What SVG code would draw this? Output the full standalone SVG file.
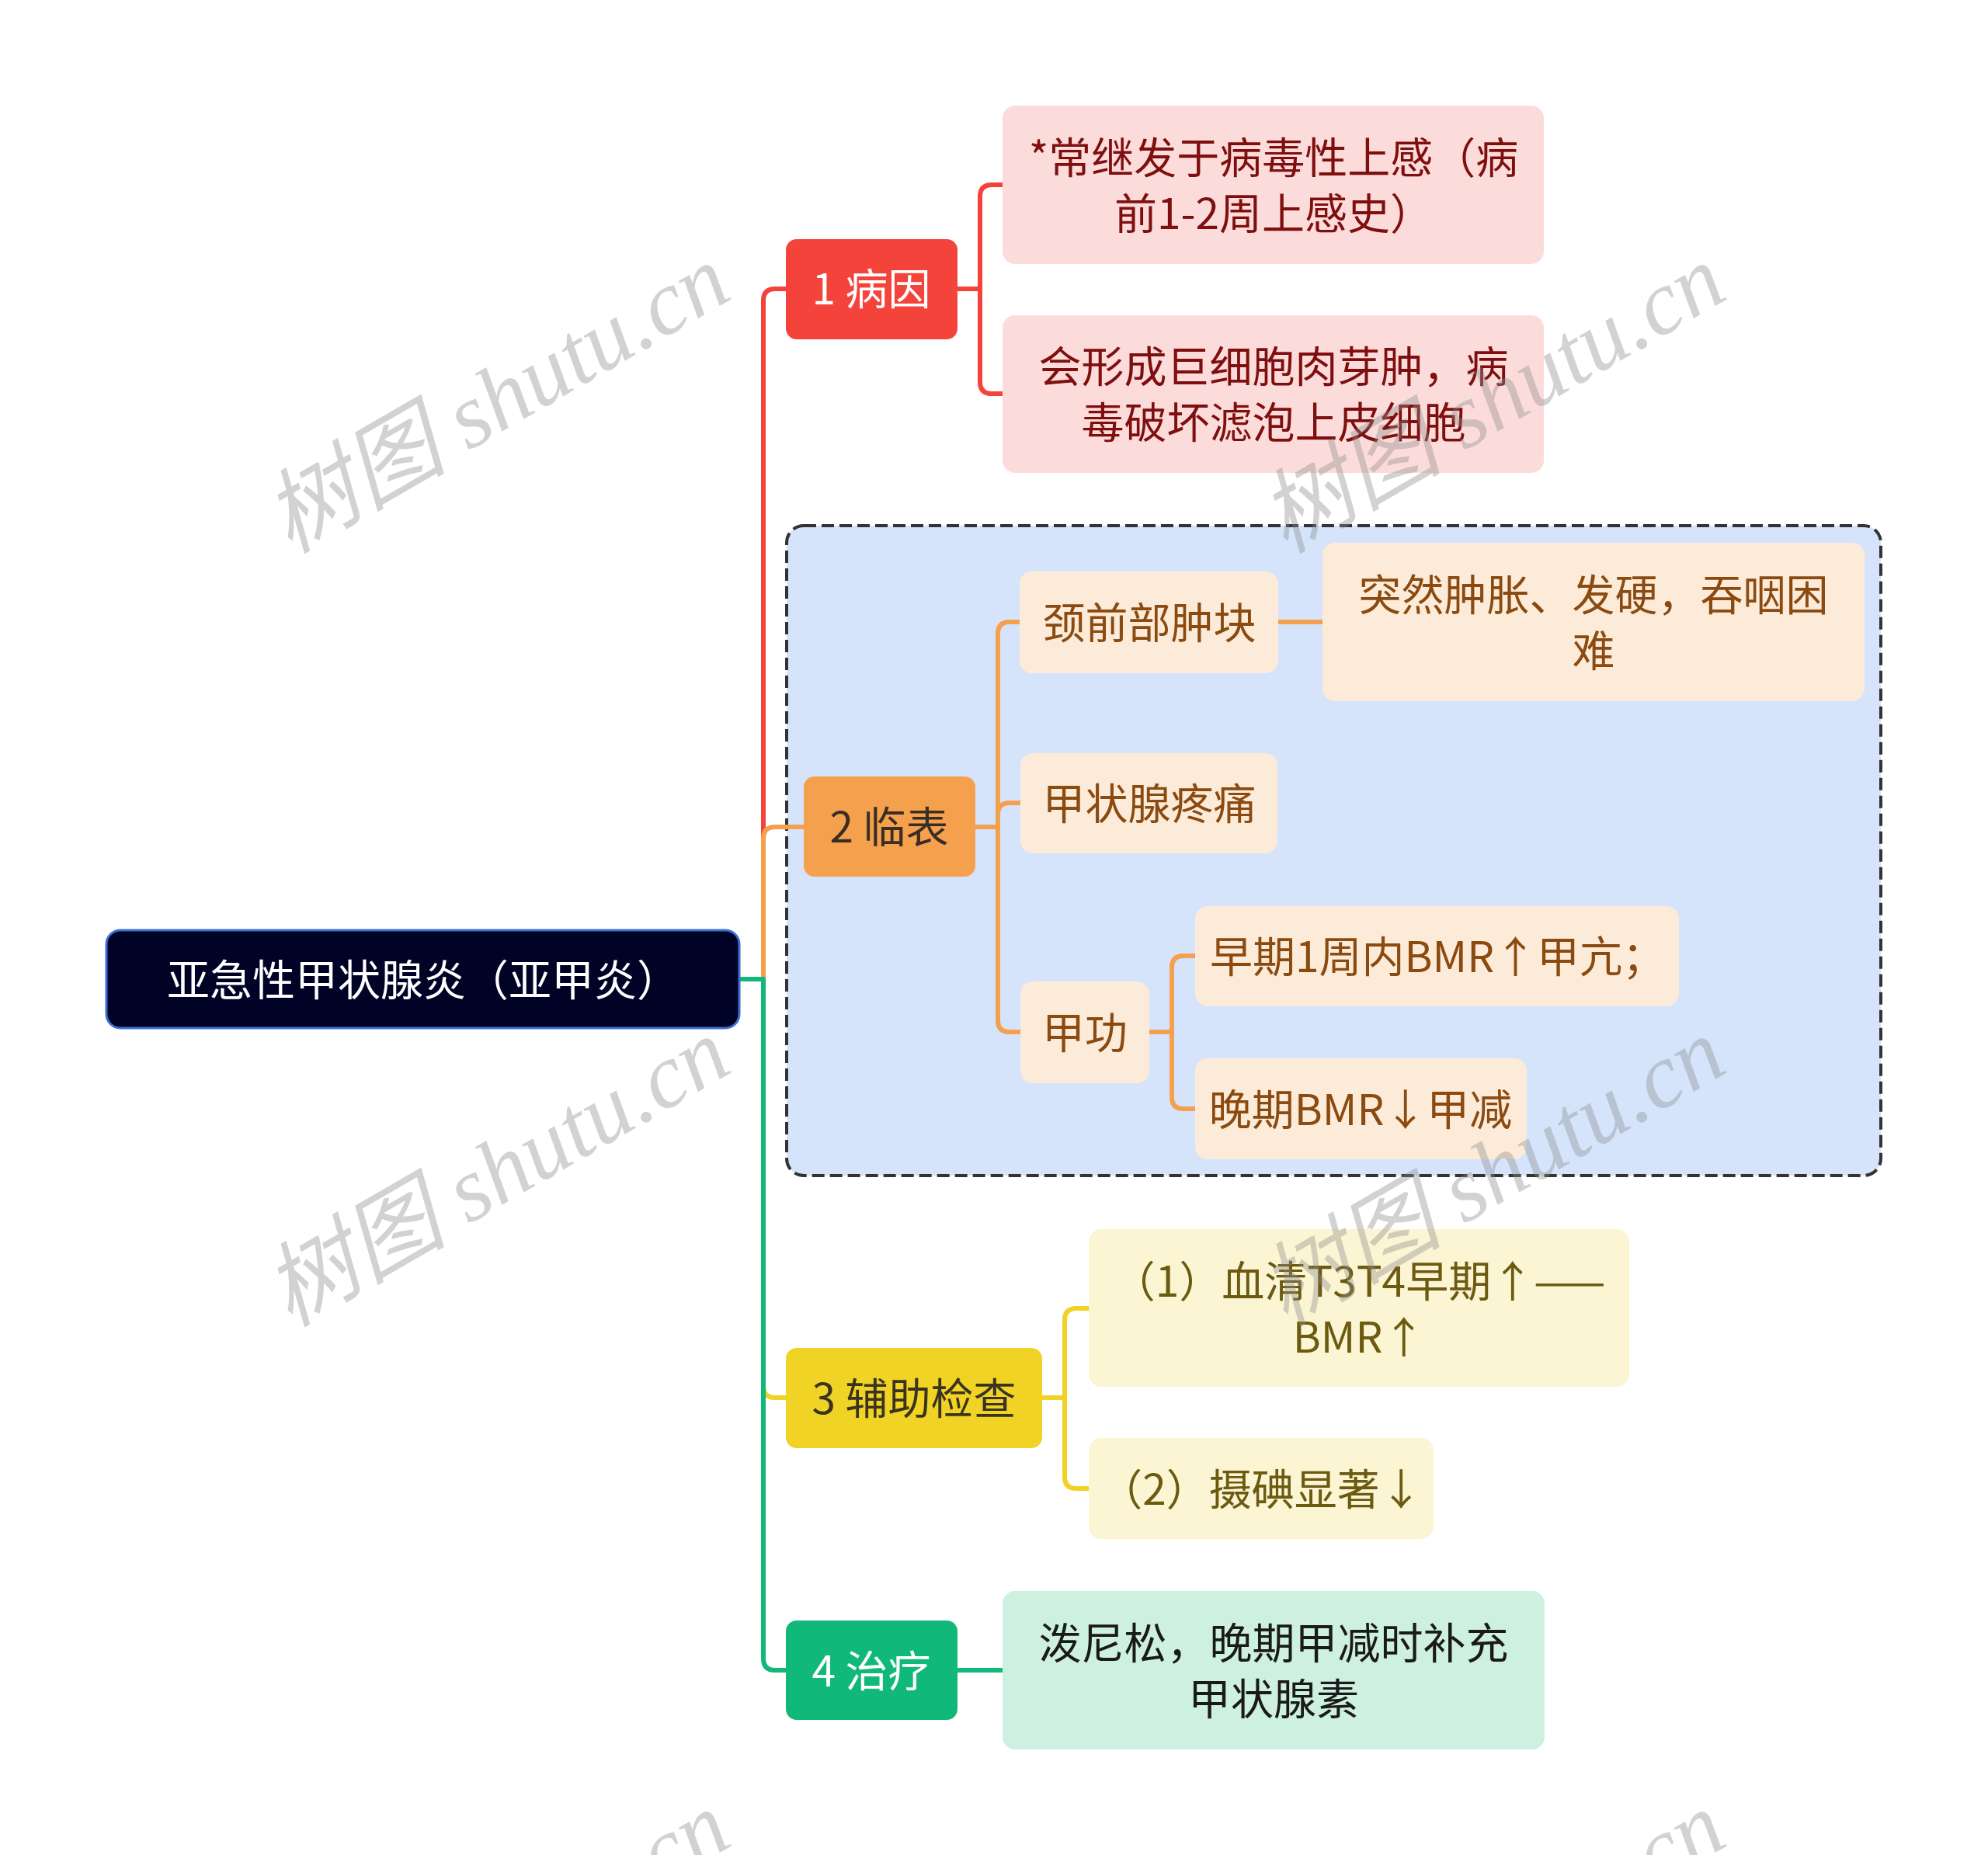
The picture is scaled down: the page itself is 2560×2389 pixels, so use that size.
<svg xmlns="http://www.w3.org/2000/svg" width="2560" height="2389" viewBox="0 0 2560 2389">
<style>
text{font-family:"Noto Sans CJK SC","Noto Sans",sans-serif;font-size:55px;text-anchor:middle;dominant-baseline:central}
.c{fill:none;stroke-width:6;stroke-linejoin:round}
.red{stroke:#f4433a}.org{stroke:#f4a04c}.yel{stroke:#f0d325}.grn{stroke:#10b97a}
.wm{font-family:"Liberation Serif","Noto Sans CJK SC",serif;font-style:italic;font-size:118px;fill:#8c8c8c;opacity:0.38}
</style>
<rect width="2560" height="2389" fill="#ffffff"/>
<g id="frame-clinical">
<rect x="1013" y="677" width="1409" height="837" rx="22" fill="#d5e4fb" stroke="#333333" stroke-width="4" stroke-dasharray="16 7"/>
</g>
<g id="connectors">
<path class="c red" d="M983 1261 V387 Q983 372 998 372 H1012"/>
<path class="c org" d="M983 1261 V1080 Q983 1065 998 1065 H1035"/>
<path class="c yel" d="M983 1261 V1785 Q983 1800 998 1800 H1012"/>
<path class="c grn" d="M952 1261 H983 V2136 Q983 2151 998 2151 H1012"/>
<path class="c red" d="M1233 372 H1262 M1262 372 V253 Q1262 238 1277 238 H1291 M1262 372 V492 Q1262 507 1277 507 H1291"/>
<path class="c org" d="M1256 1065 H1285 M1285 1065 V816 Q1285 801 1300 801 H1313 M1285 1065 V1049 Q1285 1034 1300 1034 H1314 M1285 1065 V1314 Q1285 1329 1300 1329 H1314"/>
<path class="c org" d="M1646 801 H1703"/>
<path class="c org" d="M1480 1329 H1509 M1509 1329 V1246 Q1509 1231 1524 1231 H1539 M1509 1329 V1413 Q1509 1428 1524 1428 H1539"/>
<path class="c yel" d="M1342 1800 H1371 M1371 1800 V1700 Q1371 1685 1386 1685 H1402 M1371 1800 V1902 Q1371 1917 1386 1917 H1402"/>
<path class="c grn" d="M1233 2151 H1291"/>
</g>
<g id="root">
<rect x="137" y="1198" width="815" height="126" rx="18" fill="#000326" stroke="#3b6fd4" stroke-width="3"/>
<text x="545" y="1258" fill="#ffffff">亚急性甲状腺炎（亚甲炎）</text>
</g>
<g id="n1">
<rect x="1012" y="308" width="221" height="129" rx="14" fill="#f4433a"/>
<text x="1122" y="368" fill="#ffffff">1 病因</text>
</g>
<g id="n1a">
<rect x="1291" y="136" width="697" height="204" rx="16" fill="#fcdcdb"/>
<text x="1640" y="199" fill="#7f0f0f">*常继发于病毒性上感（病</text>
<text x="1640" y="271" fill="#7f0f0f">前1-2周上感史）</text>
</g>
<g id="n1b">
<rect x="1291" y="406" width="697" height="203" rx="16" fill="#fcdcdb"/>
<text x="1640" y="468" fill="#7f0f0f">会形成巨细胞肉芽肿，病</text>
<text x="1640" y="540" fill="#7f0f0f">毒破坏滤泡上皮细胞</text>
</g>
<g id="n2">
<rect x="1035" y="1000" width="221" height="129" rx="14" fill="#f4a04c"/>
<text x="1145" y="1061" fill="#3a2e24">2 临表</text>
</g>
<g id="n2a">
<rect x="1313" y="736" width="333" height="131" rx="16" fill="#fdebd9"/>
<text x="1480" y="798" fill="#8a4a10">颈前部肿块</text>
</g>
<g id="n2a1">
<rect x="1703" y="699" width="698" height="204" rx="16" fill="#fdebd9"/>
<text x="2052" y="762" fill="#8a4a10">突然肿胀、发硬，吞咽困</text>
<text x="2052" y="834" fill="#8a4a10">难</text>
</g>
<g id="n2b">
<rect x="1314" y="970" width="331" height="129" rx="16" fill="#fdebd9"/>
<text x="1480" y="1031" fill="#8a4a10">甲状腺疼痛</text>
</g>
<g id="n2c">
<rect x="1314" y="1264" width="166" height="131" rx="16" fill="#fdebd9"/>
<text x="1397" y="1326" fill="#8a4a10">甲功</text>
</g>
<g id="n2c1">
<rect x="1539" y="1167" width="623" height="129" rx="16" fill="#fdebd9"/>
<text x="1851" y="1228" fill="#8a4a10">早期1周内BMR↑甲亢；</text>
</g>
<g id="n2c2">
<rect x="1539" y="1363" width="427" height="130" rx="16" fill="#fdebd9"/>
<text x="1752" y="1425" fill="#8a4a10">晚期BMR↓甲减</text>
</g>
<g id="n3">
<rect x="1012" y="1736" width="330" height="129" rx="14" fill="#f0d325"/>
<text x="1177" y="1797" fill="#3a3320">3 辅助检查</text>
</g>
<g id="n3a">
<rect x="1402" y="1583" width="696" height="203" rx="16" fill="#fbf5d3"/>
<text x="1750" y="1646" fill="#6b5a10">（1）血清T3T4早期↑——</text>
<text x="1750" y="1718" fill="#6b5a10">BMR↑</text>
</g>
<g id="n3b">
<rect x="1402" y="1852" width="444" height="130" rx="16" fill="#fbf5d3"/>
<text x="1624" y="1914" fill="#6b5a10">（2）摄碘显著↓</text>
</g>
<g id="n4">
<rect x="1012" y="2087" width="221" height="128" rx="14" fill="#10b97a"/>
<text x="1122" y="2148" fill="#ffffff">4 治疗</text>
</g>
<g id="n4a">
<rect x="1291" y="2049" width="698" height="204" rx="16" fill="#cdf0e0"/>
<text x="1640" y="2112" fill="#1a1a1a">泼尼松，晚期甲减时补充</text>
<text x="1640" y="2184" fill="#1a1a1a">甲状腺素</text>
</g>
<g id="watermarks">
<text class="wm" transform="translate(640 514) rotate(-30)">树图 shutu.cn</text>
<text class="wm" transform="translate(1922 514) rotate(-30)">树图 shutu.cn</text>
<text class="wm" transform="translate(640 1510) rotate(-30)">树图 shutu.cn</text>
<text class="wm" transform="translate(1922 1510) rotate(-30)">树图 shutu.cn</text>
<text class="wm" transform="translate(640 2506) rotate(-30)">树图 shutu.cn</text>
<text class="wm" transform="translate(1922 2506) rotate(-30)">树图 shutu.cn</text>
</g>
</svg>
